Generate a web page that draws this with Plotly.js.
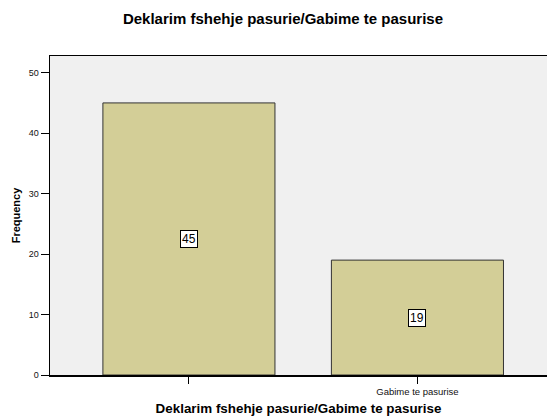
<!DOCTYPE html>
<html>
<head>
<meta charset="utf-8">
<script src="https://cdn.plot.ly/plotly-3.0.1.min.js"></script>
<style>html,body{margin:0;padding:0;background:#fff;}#chart{width:547px;height:416px;}</style>
</head>
<body>
<div id="chart"></div>
<script>
var categories = ['', 'Gabime te pasurise'];
var frequencies = [45, 19];
var yTicks = [0, 10, 20, 30, 40, 50];
var titleText = 'Deklarim fshehje pasurie/Gabime te pasurise';
var xTitleText = 'Deklarim fshehje pasurie/Gabime te pasurise';
var yTitleText = 'Frequency';

var xs = categories.map(function(c, i){ return i; });
var FONT = 'Arial, Liberation Sans, sans-serif';

var trace = {
  type: 'bar',
  x: xs,
  y: frequencies,
  width: 0.753,
  marker: {color: '#d3ce97', line: {color: '#333333', width: 1}},
  hoverinfo: 'none'
};

var annotations = frequencies.map(function(v, i){
  return {
    x: xs[i], y: v / 2, xref: 'x', yref: 'y',
    text: String(v), showarrow: false,
    font: {family: FONT, size: 12, color: '#000'},
    bgcolor: '#ffffff', bordercolor: '#000000', borderwidth: 1, borderpad: 1
  };
});

var layout = {
  width: 547, height: 416,
  margin: {l: 50, r: 0, t: 56, b: 41},
  paper_bgcolor: '#ffffff',
  plot_bgcolor: '#f0f0f0',
  showlegend: false,
  title: {
    text: '<b>' + titleText + '</b>',
    font: {family: FONT, size: 15, color: '#000'},
    x: 283/547, xref: 'container', xanchor: 'center',
    y: 1 - 19/416, yref: 'container', yanchor: 'middle'
  },
  xaxis: {
    range: [-0.608, 1.567],
    tickvals: xs,
    ticktext: categories,
    ticks: 'outside', ticklen: 7, tickwidth: 1, tickcolor: '#000',
    tickfont: {family: FONT, size: 9.5, color: '#111'},
    showline: true, linecolor: '#000', linewidth: 1.5, mirror: true,
    showgrid: false, zeroline: false, fixedrange: true, automargin: false,
    title: {text: '<b>' + xTitleText + '</b>', standoff: 9,
      font: {family: FONT, size: 13.4, color: '#000'}}
  },
  yaxis: {
    range: [0, 52.76],
    tickvals: yTicks,
    ticks: 'outside', ticklen: 8, tickwidth: 1, tickcolor: '#000',
    tickfont: {family: FONT, size: 9, color: '#111'},
    showline: true, linecolor: '#000', linewidth: 1.5,
    showgrid: false, zeroline: false, fixedrange: true, automargin: false,
    title: {text: '<b>' + yTitleText + '</b>', standoff: 6,
      font: {family: FONT, size: 11, color: '#000'}}
  },
  annotations: annotations
};

Plotly.newPlot('chart', [trace], layout, {staticPlot: true, displayModeBar: false});
</script>
</body>
</html>
